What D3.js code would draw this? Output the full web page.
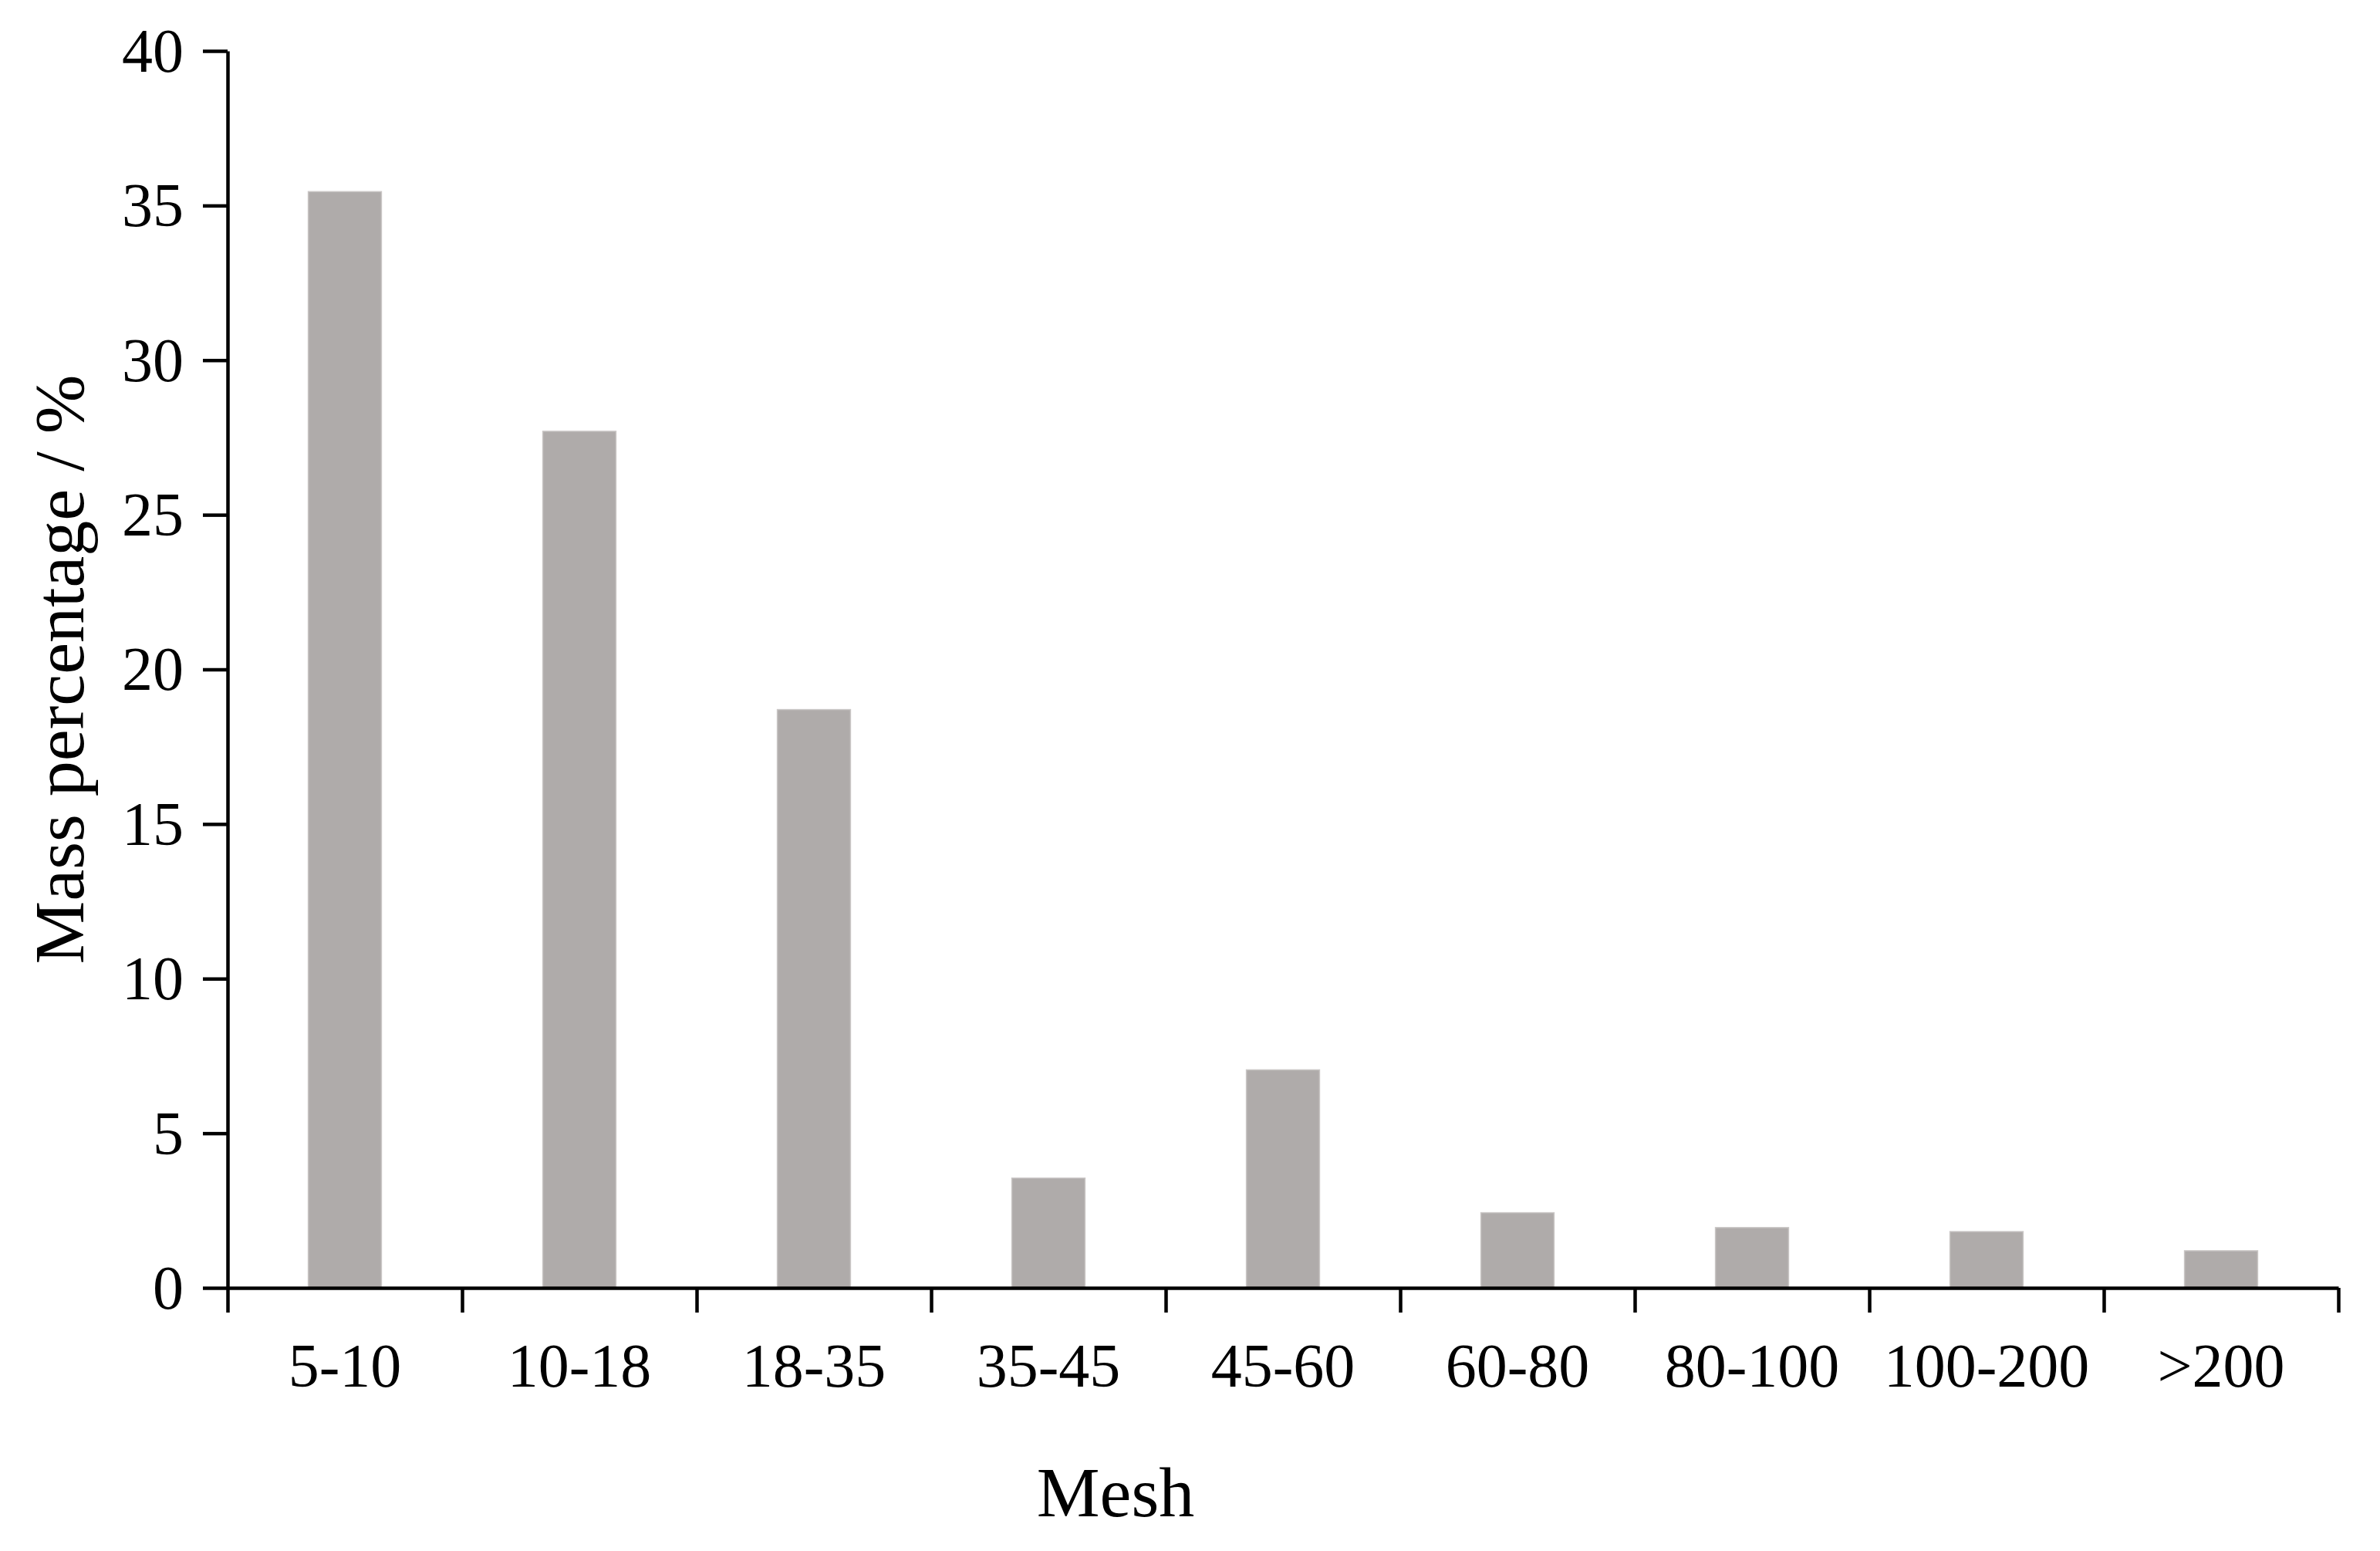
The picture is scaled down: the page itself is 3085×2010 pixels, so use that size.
<!DOCTYPE html>
<html>
<head>
<meta charset="utf-8">
<script src="https://cdn.jsdelivr.net/npm/d3@7/dist/d3.min.js"></script>
<style>
  html, body { margin: 0; padding: 0; background: #ffffff; }
  svg { display: block; }
  text { font-family: 'Liberation Serif', 'Times New Roman', serif; fill: #000; }
</style>
</head>
<body>
<svg id="chart" width="3085" height="2010"></svg>
<script>
const categories = ["5-10", "10-18", "18-35", "35-45", "45-60", "60-80", "80-100", "100-200", ">200"];
const values = [35.45, 27.7, 18.7, 3.55, 7.05, 2.43, 1.95, 1.82, 1.2];
const yTicks = [0, 5, 10, 15, 20, 25, 30, 35, 40];
const xTitle = "Mesh";
const yTitle = "Mass percentage / %";

(function () {
const W = 3085, H = 2010;
const pLeft = 295, pRight = 3031, pTop = 66, pBottom = 1669;
const svg = d3.select("#chart");
svg.append("rect").attr("width", W).attr("height", H).attr("fill", "#fff");

const x = d3.scaleBand().domain(categories).range([pLeft, pRight]).padding(0);
const xb = d3.scaleLinear().domain([0, categories.length]).range([pLeft, pRight]);
const y = d3.scaleLinear().domain([0, 40]).range([pBottom, pTop]);

const barW = x.bandwidth() * 0.312;

// bars
svg.append("g").selectAll("rect").data(values).join("rect")
  .attr("x", (d, i) => x(categories[i]) + x.bandwidth() / 2 - barW / 2)
  .attr("y", d => y(d))
  .attr("width", barW)
  .attr("height", d => y(0) - y(d))
  .attr("fill", "#afabaa")
  .attr("stroke", "#c9c6c5")
  .attr("stroke-width", 1.5);

const lw = 4.5;

// y axis
const yAxis = svg.append("g").attr("transform", `translate(${pLeft},0)`)
  .call(d3.axisLeft(y).tickValues(yTicks).tickSize(32).tickSizeOuter(0).tickPadding(25).tickFormat(d3.format("d")));
yAxis.select(".domain").attr("stroke", "#000").attr("stroke-width", lw);
yAxis.selectAll(".tick line").attr("stroke", "#000").attr("stroke-width", lw);
yAxis.selectAll(".tick text").attr("font-size", 80).attr("dy", "0.33em")
  .style("font-family", "'Liberation Serif', 'Times New Roman', serif");

// x axis boundary ticks
const xAxis = svg.append("g").attr("transform", `translate(0,${pBottom})`)
  .call(d3.axisBottom(xb).tickValues(d3.range(0, categories.length + 1)).tickSize(32).tickSizeOuter(0).tickFormat(""));
xAxis.select(".domain").attr("stroke", "#000").attr("stroke-width", lw);
xAxis.selectAll(".tick line").attr("stroke", "#000").attr("stroke-width", lw);

// x labels
const xLab = svg.append("g").attr("transform", `translate(0,${pBottom})`)
  .call(d3.axisBottom(x).tickSize(0).tickPadding(0));
xLab.select(".domain").remove();
xLab.selectAll(".tick text").attr("font-size", 80).attr("y", 1797 - pBottom).attr("dy", 0)
  .style("font-family", "'Liberation Serif', 'Times New Roman', serif");

// titles
svg.append("text").attr("x", 1446).attr("y", 1965).attr("text-anchor", "middle")
  .attr("font-size", 92).text(xTitle);
svg.append("text").attr("transform", `translate(108,${(pTop + pBottom) / 2}) rotate(-90)`)
  .attr("text-anchor", "middle").attr("font-size", 92).text(yTitle);
})();
</script>
</body>
</html>
